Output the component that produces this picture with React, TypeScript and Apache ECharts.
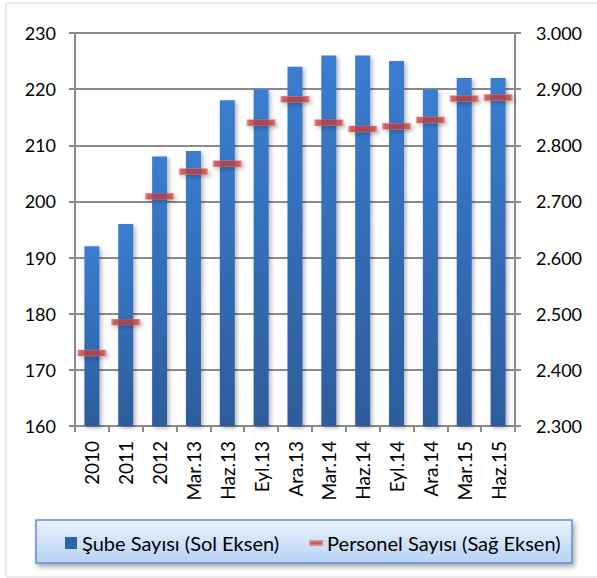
import React, { useEffect, useRef } from "react";
import * as echarts from "echarts";

const categories = ["2010", "2011", "2012", "Mar.13", "Haz.13", "Eyl.13", "Ara.13", "Mar.14", "Haz.14", "Eyl.14", "Ara.14", "Mar.15", "Haz.15"];
const subeSayisi = [192, 196, 208, 209, 218, 220, 224, 226, 226, 225, 220, 222, 222];
const personelSayisi = [2430, 2485, 2709, 2753, 2767, 2840, 2882, 2840, 2829, 2834, 2845, 2883, 2885];
const leftTicks = { min: 160, max: 230, interval: 10 };
const rightTicks = { min: 2300, max: 3000, interval: 100 };
const seriesNames = ["Şube Sayısı (Sol Eksen)", "Personel Sayısı (Sağ Eksen)"];

const FONT = "Lato, 'Open Sans', sans-serif";

export default function App() {
  const ref = useRef<HTMLDivElement>(null);
  useEffect(() => {
    if (!ref.current) return;
    const chart = echarts.init(ref.current, null, { renderer: "svg" });
    const grayLine = { color: "#8a8a8a", width: 2 };
    chart.setOption({
      animation: false,
      backgroundColor: "#ffffff",
      textStyle: { fontFamily: FONT },
      grid: { left: 75, right: 82, top: 33, bottom: 152, containLabel: false },
      xAxis: {
        type: "category",
        data: categories,
        axisLine: { lineStyle: grayLine },
        axisTick: { show: true, length: 6, alignWithLabel: false, lineStyle: grayLine },
        axisLabel: { rotate: 90, fontSize: 19, color: "#000", margin: 15, fontFamily: FONT },
        splitLine: { show: false },
      },
      yAxis: [
        {
          type: "value",
          ...leftTicks,
          position: "left",
          axisLine: { show: true, lineStyle: grayLine },
          axisTick: { show: true, length: 6, lineStyle: grayLine },
          axisLabel: { fontSize: 18, color: "#000", margin: 19, fontFamily: FONT },
          splitLine: { show: true, lineStyle: grayLine },
        },
        {
          type: "value",
          ...rightTicks,
          position: "right",
          axisLine: { show: true, lineStyle: grayLine },
          axisTick: { show: true, length: 6, lineStyle: grayLine },
          axisLabel: {
            fontSize: 18,
            color: "#000",
            margin: 21,
            fontFamily: FONT,
            formatter: (v: number) => Math.floor(v / 1000) + "." + String(v % 1000).padStart(3, "0"),
          },
          splitLine: { show: false },
        },
      ],
      legend: {
        left: 60,
        top: 528,
        itemGap: 30,
        itemWidth: 12,
        itemHeight: 12,
        textStyle: { fontSize: 20, color: "#000", fontFamily: FONT },
        data: [
          { name: seriesNames[0], icon: "rect", itemStyle: { color: "#2f64a8" } },
          { name: seriesNames[1], icon: "path://M0,0H12V4H0Z", itemStyle: { color: "#c0403f" } },
        ],
      },
      graphic: [
        {
          type: "rect",
          shape: { x: 6, y: 3, width: 620, height: 574 },
          style: { fill: "none", stroke: "#d6d6d6", lineWidth: 1 },
          z: -10,
        },
        {
          type: "rect",
          shape: { x: 36, y: 520, width: 536, height: 43 },
          style: {
            fill: new echarts.graphic.LinearGradient(0, 0, 0, 1, [
              { offset: 0, color: "#eaf2fd" },
              { offset: 1, color: "#b9d2f4" },
            ]),
            stroke: "#5b8fd6",
            lineWidth: 1.5,
            shadowBlur: 5,
            shadowOffsetX: 2,
            shadowOffsetY: 3,
            shadowColor: "rgba(0,0,0,0.35)",
          },
          z: -1,
        },
      ],
      series: [
        {
          name: seriesNames[0],
          type: "bar",
          yAxisIndex: 0,
          data: subeSayisi,
          barWidth: 15,
          itemStyle: {
            color: new echarts.graphic.LinearGradient(0, 0, 0, 1, [
              { offset: 0, color: "#3a7dd0" },
              { offset: 1, color: "#2d5c9c" },
            ]),
            shadowBlur: 4,
            shadowOffsetX: 2,
            shadowOffsetY: 2,
            shadowColor: "rgba(0,0,0,0.3)",
          },
        },
        {
          name: seriesNames[1],
          type: "scatter",
          yAxisIndex: 1,
          data: personelSayisi,
          symbol: "rect",
          symbolSize: [27, 6],
          itemStyle: {
            color: "#c3403e",
            borderColor: "#e08080",
            borderWidth: 1,
            shadowBlur: 4,
            shadowOffsetX: 2,
            shadowOffsetY: 2,
            shadowColor: "rgba(0,0,0,0.3)",
          },
          z: 5,
        },
      ],
    });
    return () => chart.dispose();
  }, []);
  return <div ref={ref} style={{ width: 597, height: 578, position: "absolute", left: 0, top: 0 }} />;
}
